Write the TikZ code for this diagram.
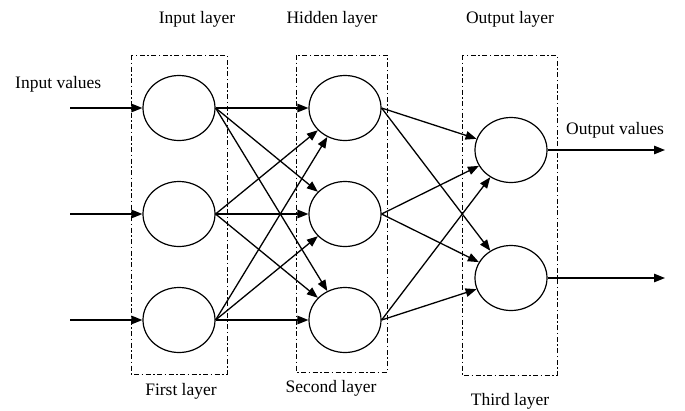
\documentclass[tikz,border=0pt]{standalone}
\usepackage{fontspec}
\setmainfont{Liberation Serif}
\usetikzlibrary{shapes.geometric,arrows.meta}
\begin{document}
\begin{tikzpicture}[x=1pt,y=-1pt,
  neuron/.style={draw,ellipse,line width=1.2pt,minimum width=72pt,minimum height=65pt,inner sep=0pt},
  layerbox/.style={draw,line width=1pt,dash pattern=on 5pt off 2.5pt on 1.5pt off 2.5pt},
  conn/.style={line width=1.3pt,-{Triangle[length=11pt,width=8.5pt]}},
  lbl/.style={font=\fontsize{17.5}{19}\selectfont,inner sep=0pt}]
\useasboundingbox (0,0) rectangle (685,410);
% layer boxes
\draw[layerbox] (131,55) rectangle (227,374);
\draw[layerbox] (296,55) rectangle (387,372);
\draw[layerbox] (462,55) rectangle (557,375);
% neurons
\node[neuron] (i1) at (179,108) {};
\node[neuron] (i2) at (179,214) {};
\node[neuron] (i3) at (179,320) {};
\node[neuron] (h1) at (345,108) {};
\node[neuron] (h2) at (345,214) {};
\node[neuron] (h3) at (345,320) {};
\node[neuron] (o1) at (511,150) {};
\node[neuron] (o2) at (511,278) {};
% labels
\node[lbl] (tin) at (197,19) {Input layer};
\node[lbl] (thid) at (332,19) {Hidden layer};
\node[lbl] (tout) at (510,19) {Output layer};
\node[lbl,anchor=west] (tinv) at (15,84) {Input values};
\node[lbl,anchor=west] (toutv) at (566,130) {Output values};
\node[lbl] (tfirst) at (181,391) {First layer};
\node[lbl] (tsecond) at (331,388) {Second layer};
\node[lbl] (tthird) at (510,401) {Third layer};
% free ends
\coordinate (s1) at (70,108);
\coordinate (s2) at (70,214);
\coordinate (s3) at (70,320);
\coordinate (e1) at (665,150);
\coordinate (e2) at (665,278);
% input arrows
\draw[conn] (s1) -- (i1.west);
\draw[conn] (s2) -- (i2.west);
\draw[conn] (s3) -- (i3.west);
% input -> hidden
\draw[conn] (i1.east) -- (h1.west);
\draw[conn] (i1.east) -- (h2);
\draw[conn] (i1.east) -- (h3);
\draw[conn] (i2.east) -- (h1);
\draw[conn] (i2.east) -- (h2.west);
\draw[conn] (i2.east) -- (h3);
\draw[conn] (i3.east) -- (h1);
\draw[conn] (i3.east) -- (h2);
\draw[conn] (i3.east) -- (h3.west);
% hidden -> output
\draw[conn] (h1.east) -- (o1);
\draw[conn] (h1.east) -- (o2);
\draw[conn] (h2.east) -- (o1);
\draw[conn] (h2.east) -- (o2);
\draw[conn] (h3.east) -- (o1);
\draw[conn] (h3.east) -- (o2);
% output arrows
\draw[conn] (o1.east) -- (e1);
\draw[conn] (o2.east) -- (e2);
\end{tikzpicture}
\end{document}
